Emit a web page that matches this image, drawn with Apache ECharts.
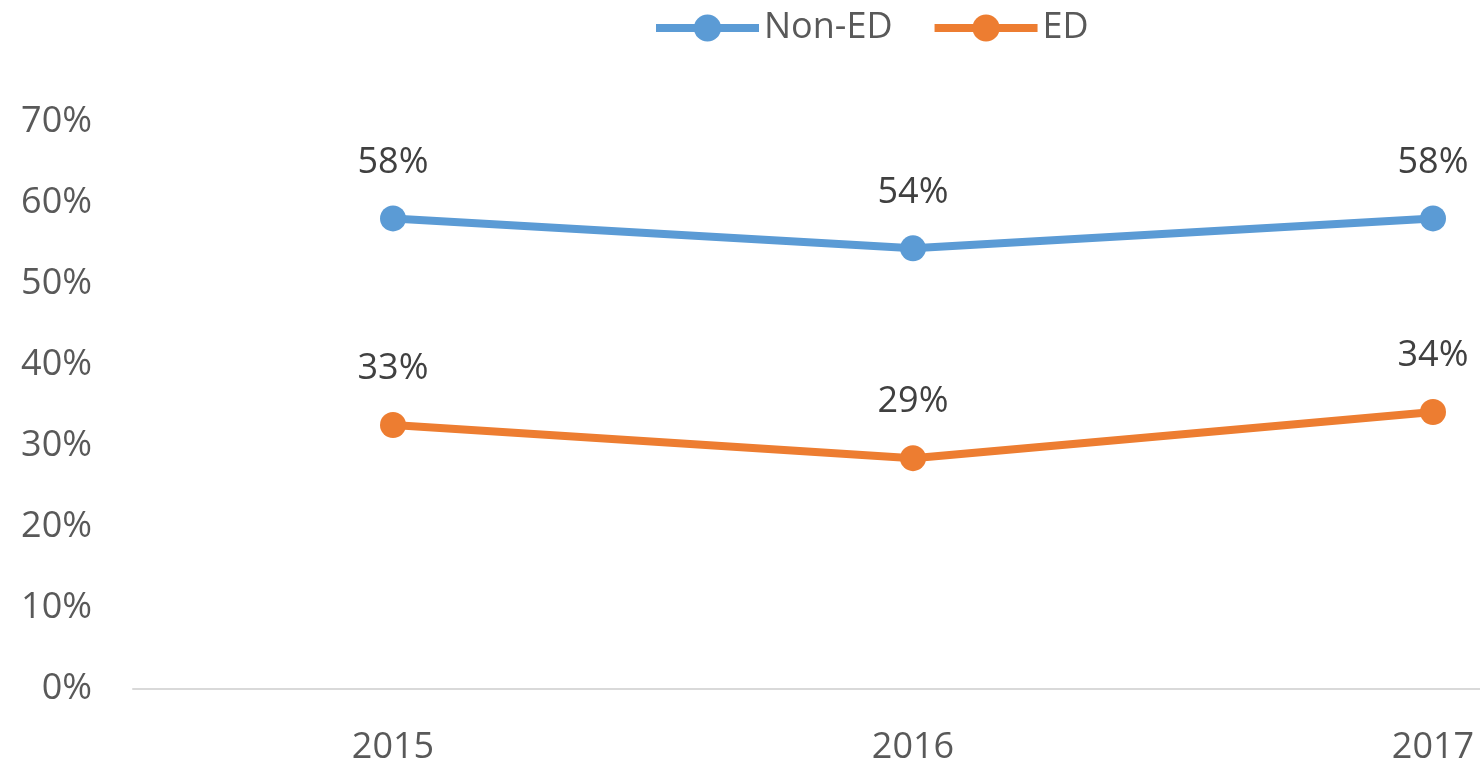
<!DOCTYPE html>
<html lang="en">
<head>
    <meta charset="UTF-8">
    <title>Non-ED vs ED</title>
    <script src="https://cdn.jsdelivr.net/npm/echarts@6/dist/echarts.min.js"></script>
    <style>
        html, body { margin:0; padding:0; background:#fff; }
    </style>
</head>
<body>
    <div id="chart" style="width:1480px;height:767px;"></div>
<script>
    // values (percent)
    var years = ['2015', '2016', '2017'];
    var nonEd = [58.1, 54.4, 58.1];
    var ed = [32.6, 28.5, 34.2];
    var seriesNames = ['Non-ED', 'ED'];
    var colors = ['#5B9BD5', '#ED7D31'];

    var chart = echarts.init(document.getElementById('chart'));
    var font = '"Open Sans", "Noto Sans", sans-serif';

    function lineSeries(name, data, color) {
        return {
            name: name,
            type: 'line',
            data: data,
            symbol: 'circle',
            symbolSize: 26,
            itemStyle: { color: color },
            lineStyle: { color: color, width: 8 },
            label: {
                show: true,
                position: 'top',
                distance: 25,
                fontFamily: font,
                fontSize: 36,
                color: '#404040',
                formatter: function (p) { return Math.round(p.value) + '%'; }
            },
            animation: false
        };
    }

    var options = {
        textStyle: { fontFamily: font },
        legend: {
            top: 10,
            left: 652,
            padding: 0,
            itemWidth: 103,
            itemHeight: 34,
            itemGap: 38,
            lineStyle: { width: 8 },
            textStyle: { fontFamily: font, fontSize: 36, color: '#595959' },
            data: seriesNames
        },
        // plot runs past the right edge, the source picture was cropped there
        grid: { left: 133, top: 122, height: 567, width: 1560, outerBoundsMode: 'none', containLabel: false },
        xAxis: {
            type: 'category',
            data: years,
            axisLine: { lineStyle: { color: '#D9D9D9', width: 2 } },
            axisTick: { show: false },
            axisLabel: { fontFamily: font, fontSize: 36, color: '#595959', margin: 41 }
        },
        yAxis: {
            type: 'value',
            min: 0,
            max: 70,
            interval: 10,
            axisLine: { show: false },
            axisTick: { show: false },
            splitLine: { show: false },
            axisLabel: { fontFamily: font, fontSize: 36, color: '#595959', margin: 41, formatter: '{value}%' }
        },
        series: [
            lineSeries(seriesNames[0], nonEd, colors[0]),
            lineSeries(seriesNames[1], ed, colors[1])
        ]
    };
    chart.setOption(options);
</script>
</body>
</html>
